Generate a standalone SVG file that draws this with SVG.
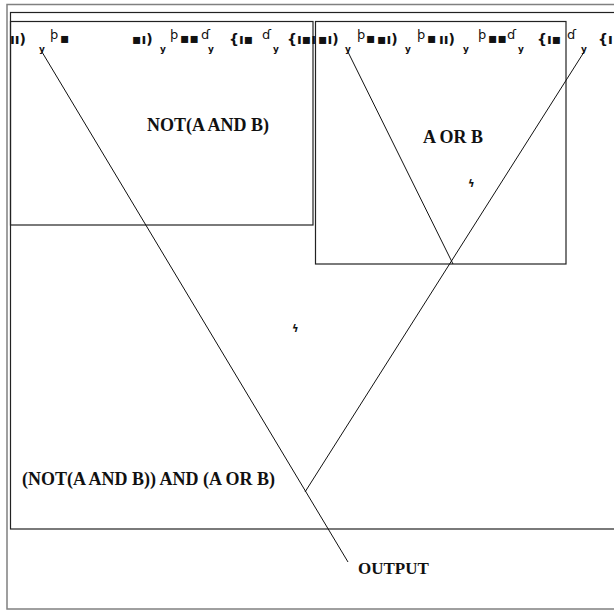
<svg xmlns="http://www.w3.org/2000/svg" width="614" height="611" viewBox="0 0 614 611">
<style>
.frame{fill:none;stroke:#808080;stroke-width:1.5}
.box{fill:none;stroke:#222;stroke-width:1.2}
.wire{stroke:#111;stroke-width:1;fill:none}
.lbl{font-family:"Liberation Serif",serif;font-weight:bold;font-size:18px;fill:#111}
.g{font-family:"DejaVu Sans",sans-serif;font-weight:bold;font-size:14px;fill:#111}
.gs{font-family:"DejaVu Sans",sans-serif;font-weight:bold;font-size:9px;fill:#111}
.gt{font-family:"DejaVu Sans",sans-serif;font-size:13px;fill:#111}
.sq{font-family:"DejaVu Sans",sans-serif;font-weight:bold;font-size:10px;fill:#111}
</style>
<rect width="614" height="611" fill="#fff"/>
<rect class="frame" x="7" y="4.5" width="620" height="604.5"/>
<g id="main">
<rect class="box" x="10.5" y="12.5" width="620" height="516.5"/>
<text class="lbl" x="22" y="485">(NOT(A AND B)) AND (A OR B)</text>
<text class="sq" x="292" y="332">ϟ</text>
</g>
<g id="nand">
<rect class="box" x="10.5" y="21.5" width="302.5" height="203.5"/>
<text class="lbl" x="147" y="131">NOT(A AND B)</text>
</g>
<g id="or">
<rect class="box" x="315.5" y="21.5" width="250.5" height="242.5"/>
<text class="lbl" x="423" y="143">A OR B</text>
<text class="sq" x="468" y="187">ϟ</text>
</g>
<g id="output">
<text class="lbl" x="358" y="574" style="font-size:17px">OUTPUT</text>
</g>
<g id="pins">
<text class="g" x="10" y="44">ıı)</text><text class="gs" x="39" y="52">y</text><text class="gt" x="50" y="39">þ</text><text class="g" x="60" y="43">▪</text>
<text class="g" x="132" y="44">▪ı)</text><text class="gs" x="160" y="52">y</text><text class="gt" x="170" y="39">þ</text><text class="g" x="180" y="43">▪▪</text>
<text class="gt" x="201" y="39">ɗ</text><text class="gs" x="208" y="52">y</text><text class="g" x="229" y="44">{ı▪</text><text class="gt" x="262" y="39">ɗ</text><text class="gs" x="273" y="52">y</text>
<text class="g" x="287" y="44">{ı▪ı</text><text class="g" x="318" y="44">▪ı)</text><text class="gs" x="345" y="52">y</text><text class="gt" x="357" y="39">þ</text><text class="g" x="366" y="43">▪</text>
<text class="g" x="377" y="44">▪ı)</text><text class="gs" x="405" y="52">y</text><text class="gt" x="417" y="39">þ</text><text class="g" x="427" y="43">▪</text>
<text class="g" x="439" y="44">ıı)</text><text class="gs" x="463" y="52">y</text><text class="gt" x="478" y="39">þ</text><text class="g" x="488" y="43">▪▪</text>
<text class="gt" x="507" y="39">ɗ</text><text class="gs" x="518" y="52">y</text><text class="g" x="537" y="44">{ı▪</text><text class="gt" x="567" y="39">ɗ</text><text class="gs" x="581" y="52">y</text><text class="g" x="598" y="44">{ı</text>
</g>
<g id="connectors">
<line class="wire" x1="42" y1="52" x2="348" y2="562"/>
<line class="wire" x1="348" y1="52" x2="453" y2="264"/>
<line class="wire" x1="584" y1="52" x2="305" y2="492"/>
</g>
</svg>
